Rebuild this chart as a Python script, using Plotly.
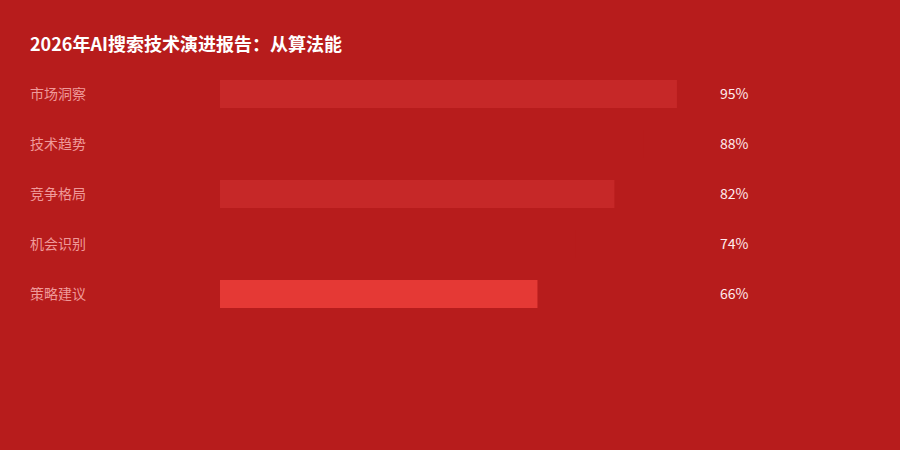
import plotly.graph_objects as go

# data
categories = ["市场洞察", "技术趋势", "竞争格局", "机会识别", "策略建议"]
values = [95, 88, 82, 74, 66]
bar_colors = ["#C62828", "#B71C1C", "#C62828", "#B71C1C", "#E53935"]

BG = "#B71C1C"
FONT = "Noto Sans CJK SC, Noto Sans, sans-serif"

fig = go.Figure()

fig.add_trace(go.Bar(
    x=values,
    y=categories,
    orientation="h",
    marker=dict(color=bar_colors, line=dict(width=0)),
    width=0.56,
    hoverinfo="skip",
))

# left-side category labels and right-side value labels
for cat, v in zip(categories, values):
    fig.add_annotation(
        x=(28 - 220) / 481, xref="paper", y=cat, yref="y",
        text=cat, showarrow=False, xanchor="left", yanchor="middle",
        yshift=1,
        font=dict(family=FONT, size=14, color="#EF9A9A"),
    )
    fig.add_annotation(
        x=(718 - 220) / 481, xref="paper", y=cat, yref="y",
        text=f"{v}%", showarrow=False, xanchor="left", yanchor="middle",
        yshift=1,
        font=dict(family=FONT, size=14, color="#FFEBEE"),
    )

fig.update_layout(
    width=900,
    height=450,
    paper_bgcolor=BG,
    plot_bgcolor=BG,
    showlegend=False,
    margin=dict(l=220, r=199, t=69, b=131),
    title=dict(
        text="<b>2026年AI搜索技术演进报告：从算法能</b>",
        x=30 / 900, xanchor="left", xref="container",
        y=1 - 45 / 450, yanchor="middle",
        font=dict(family=FONT, size=18, color="#FFFFFF"),
    ),
    xaxis=dict(range=[0, 100], visible=False, fixedrange=True),
    yaxis=dict(
        categoryorder="array", categoryarray=categories,
        autorange=False, range=[4.5, -0.5],
        visible=False, fixedrange=True,
    ),
)

# drop the page's default white margin so the red fills the window
fig.write_html(
    "out.html",
    config={"displayModeBar": False},
    post_script="document.body.style.margin='0';document.body.style.background='%s';" % BG,
)
